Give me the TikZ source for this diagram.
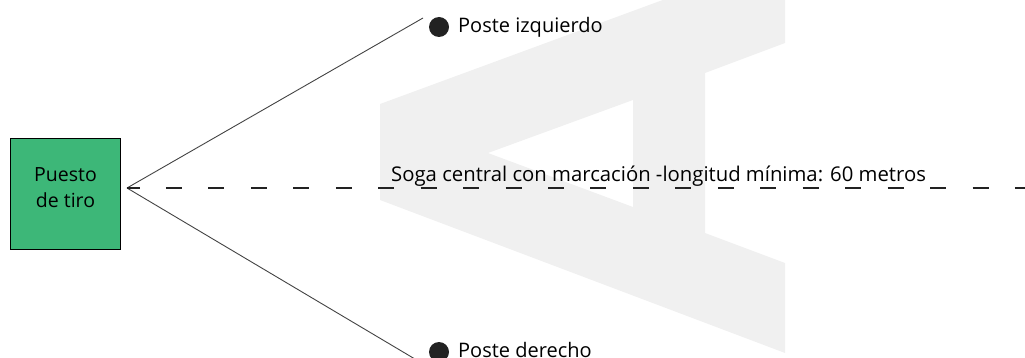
\documentclass[tikz,border=0pt]{standalone}
\usepackage{fontspec}
\setmainfont{Open Sans}
\usetikzlibrary{positioning}

\definecolor{tirogreen}{RGB}{61,183,120}
\definecolor{postegray}{RGB}{34,34,34}
\definecolor{marcagray}{RGB}{240,240,240}

\begin{document}
\begin{tikzpicture}[x=1pt,y=-1pt,
  puestobox/.style={draw=black, line width=1.3pt, fill=tirogreen, minimum width=110pt, minimum height=111pt, inner sep=0pt},
  puestotext/.style={align=center, inner sep=0pt, font=\fontsize{19.5}{26}\selectfont},
  poste/.style={circle, fill=postegray, inner sep=0pt, minimum size=20pt},
  rotulo/.style={anchor=base west, inner sep=0pt, font=\fontsize{20}{22}\selectfont},
  brazo/.style={draw=postegray!85, line width=0.9pt},
  soga/.style={draw=postegray, line width=2.8pt, dash pattern=on 16pt off 26.45pt, dash phase=3.5pt}]
\useasboundingbox (0,0) rectangle (1025,358);
\fill[marcagray, even odd rule] (380,104) -- (785,-45) -- (785,43) -- (705,73) -- (705,233) -- (785,263) -- (785,353) -- (380,200) -- cycle (488,153) -- (633,100) -- (633,207) -- cycle;
\node (puesto) [puestobox] at (65.5,194) {};
\node (puestolbl) [puestotext] at ([yshift=6pt]puesto.center) {Puesto\\de tiro};
\coordinate (vertice) at (127,188);
\coordinate (puntaIzq) at (423,18);
\coordinate (puntaDer) at (425,365);
\coordinate (sogaFin) at (1035,188);
\node (posteIzq) [poste] at (439,27) {};
\node (posteDer) [poste] at (439,352) {};
\draw[brazo] (vertice) -- (puntaIzq);
\draw[brazo] (vertice) -- (puntaDer);
\draw[soga] (vertice) -- (sogaFin);
\path node (rotIzq) [rotulo] at (458,33) {Poste izquierdo};
\path node (rotDer) [rotulo] at (458,357.5) {Poste derecho};
\path node (rotSoga) [rotulo, font=\fontsize{20.3}{22}\selectfont] at (391,182) {Soga central con marcación -longitud mínima: 60 metros};
\end{tikzpicture}
\end{document}
